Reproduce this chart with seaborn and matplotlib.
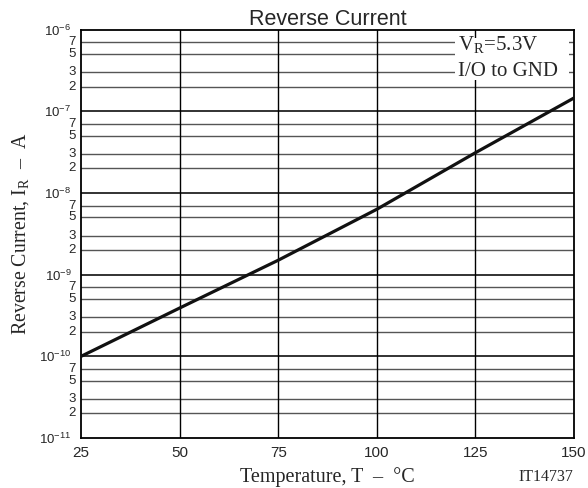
import numpy as np
import matplotlib
matplotlib.use("Agg")
import matplotlib.pyplot as plt
import seaborn as sns
import pandas as pd
from matplotlib.patches import Rectangle

# data
temperature = [25, 50, 75, 100, 125, 150]
reverse_current = [1.0e-10, 3.9e-10, 1.5e-9, 6.3e-9, 3.1e-8, 1.45e-7]
x_ticks = [25, 50, 75, 100, 125, 150]
decades = [-11, -10, -9, -8, -7, -6]
minor_steps = [2, 3, 5, 7]

df = pd.DataFrame({"T": temperature, "IR": reverse_current})

sns.set_style("white")
plt.rcParams["font.family"] = ["Liberation Sans", "DejaVu Sans"]
plt.rcParams["mathtext.fontset"] = "custom"
plt.rcParams["mathtext.rm"] = "Liberation Serif"
plt.rcParams["mathtext.sf"] = "Liberation Sans"

fig = plt.figure(figsize=(5.88, 4.88), dpi=100)
ax = fig.add_axes([0.138, 0.1025, 0.838, 0.837])

ax.set_yscale("log")
ax.set_xlim(25, 150)
ax.set_ylim(1e-11, 1e-6)

# grid
for d in decades[1:-1]:
    ax.axhline(10.0 ** d, color="#222222", lw=1.3, zorder=1)
for d in decades[:-1]:
    for m in minor_steps:
        ax.axhline(m * 10.0 ** d, color="#555555", lw=1.0, zorder=1)
for xv in x_ticks[1:-1]:
    ax.axvline(xv, color="black", lw=1.0, zorder=1)

sns.lineplot(data=df, x="T", y="IR", ax=ax, color="#111111", lw=2.3, zorder=3)

ax.set_xticks(x_ticks)
ax.set_xticklabels([str(v) for v in x_ticks], fontsize=11)
major = [10.0 ** d for d in decades]
minor = [m * 10.0 ** d for d in decades[:-1] for m in minor_steps]
ax.set_yticks(major)
ax.set_yticklabels(["10$^{\\mathsf{%d}}$" % d for d in decades], fontsize=9.5)
ax.set_yticks(minor, minor=True)
ax.set_yticklabels([str(m) for d in decades[:-1] for m in minor_steps], minor=True, fontsize=9.5)
ax.tick_params(axis="both", which="both", length=0)
ax.tick_params(axis="y", which="major", pad=7)
ax.tick_params(axis="y", which="minor", pad=4)
ax.tick_params(axis="x", pad=6)
for lab in ax.get_yticklabels(minor=True):
    lab.set_verticalalignment("center")
for lab in ax.get_yticklabels():
    lab.set_verticalalignment("center_baseline")

for s in ax.spines.values():
    s.set_color("black")
    s.set_linewidth(1.3)

serif = ["Liberation Serif"]
ax.set_xlabel("Temperature, T  –  °C", family=serif, fontsize=14.5, labelpad=5)
ax.set_ylabel("Reverse Current, I$_\\mathrm{R}$  –  A", family=serif, fontsize=14.3, labelpad=6)
ax.set_title("Reverse Current", fontsize=15.5, pad=3)

# legend box
ax.add_patch(Rectangle((0.759, 0.877), 0.231, 0.103, transform=ax.transAxes,
                       facecolor="white", edgecolor="none", zorder=4))
ax.text(0.765, 0.962, "V$_\\mathrm{R}$=5.3V", transform=ax.transAxes, ha="left", va="center",
        family=serif, fontsize=15, zorder=5)
ax.text(0.765, 0.897, "I/O to GND", transform=ax.transAxes, ha="left", va="center",
        family=serif, fontsize=15, zorder=5)
fig.text(0.975, 0.022, "IT14737", ha="right", va="center", family=serif, fontsize=11.5)

fig.savefig("out.png", dpi=100)
